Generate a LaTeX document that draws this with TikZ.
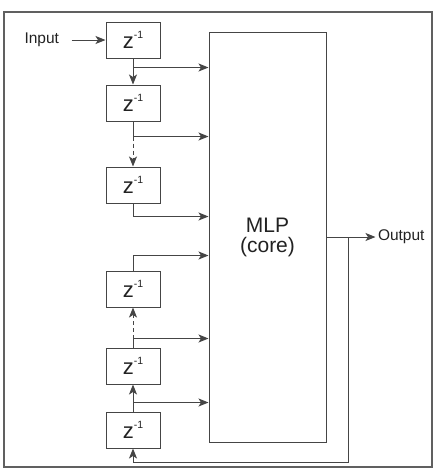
\documentclass[tikz,border=0pt]{standalone}
\usepackage{fontspec}
\setmainfont{Liberation Sans}
\usetikzlibrary{arrows.meta, positioning, calc}
\definecolor{linegray}{HTML}{454545}
\definecolor{framegray}{HTML}{606060}
\definecolor{textgray}{HTML}{222222}
\newcommand{\zinv}{z\raisebox{9.5pt}{\fontsize{10.5}{11}\selectfont -1}}

\begin{document}
\begin{tikzpicture}[x=1pt, y=1pt, >={Stealth[length=10pt,width=8pt,inset=2.5pt]}, line width=1pt, color=linegray, text=textgray]
    \tikzstyle{delay} = [rectangle, draw=linegray, minimum width=54pt, minimum height=36pt, inner sep=0pt, font=\fontsize{22}{24}\selectfont]
    \tikzstyle{core} = [rectangle, draw=linegray, minimum width=117pt, minimum height=410pt, align=center, font=\fontsize{21}{20}\selectfont]
    \tikzstyle{sigtext} = [font=\fontsize{15.5}{18}\selectfont, inner sep=2pt]
    \tikzstyle{dashline} = [dash pattern=on 4pt off 3pt]

    \useasboundingbox (0,0) rectangle (437,-475);
    \draw [framegray, line width=1.2pt] (4,-12) rectangle (432,-467);

    \node [delay] (z1) at (133,-40) {\zinv};
    \node [delay, below=26pt of z1] (z2) {\zinv};
    \node [delay, below=45pt of z2] (z3) {\zinv};
    \node [delay, below=67pt of z3] (z4) {\zinv};
    \node [delay, below=40pt of z4] (z5) {\zinv};
    \node [delay, below=27pt of z5] (z6) {\zinv};
    \node [core] (mlp) at (267.5,-237) {MLP\\(core)};
    \node [sigtext, left=34pt of z1, inner xsep=12pt] (inp) {Input};
    \node [sigtext, right=49pt of mlp.east] (out) {Output};

    \coordinate (b1) at ([yshift=-9pt]z1.south);
    \coordinate (b2) at ([yshift=-15pt]z2.south);
    \coordinate (b3) at ([yshift=-13pt]z3.south);
    \coordinate (b4) at ([yshift=15pt]z4.north);
    \coordinate (b5) at ([yshift=9pt]z5.north);
    \coordinate (b6) at ([yshift=9pt]z6.north);
    \coordinate (fb) at ([xshift=22pt]mlp.east);

    \path [draw, ->] (inp) -- (z1);
    \path [draw, ->] (z1) -- (z2);
    \path [draw] (z2) -- (b2);
    \path [draw, ->, dashline] (b2) -- (z3);
    \path [draw, ->] (z3) -- (b3) -- (b3 -| mlp.west);
    \path [draw, ->] (z4) -- (b4) -- (b4 -| mlp.west);
    \path [draw] (z5) -- (b5);
    \path [draw, ->, dashline] (b5) -- (z4);
    \path [draw, ->] (z6) -- (z5);
    \path [draw, ->] (b1) -- (b1 -| mlp.west);
    \path [draw, ->] (b2) -- (b2 -| mlp.west);
    \path [draw, ->] (b5) -- (b5 -| mlp.west);
    \path [draw, ->] (b6) -- (b6 -| mlp.west);
    \path [draw, ->] (mlp) -- (out);
    \path [draw, ->] (fb) -- ++(0,-225) -| (z6);
\end{tikzpicture}
\end{document}
